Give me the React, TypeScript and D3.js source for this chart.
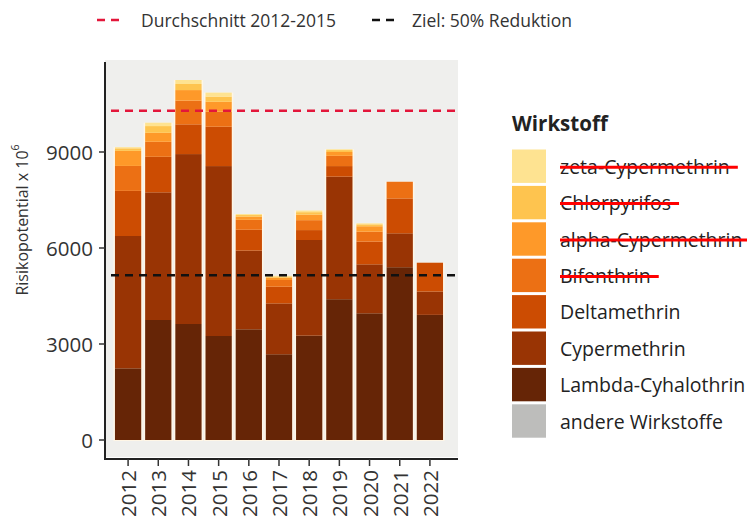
import React, { useEffect, useRef } from 'react'
import * as d3 from 'd3'

const years = ['2012', '2013', '2014', '2015', '2016', '2017', '2018', '2019', '2020', '2021', '2022']

// Risikopotential x 10^6 per Wirkstoff
const andereWirkstoffe = [0, 0, 0, 0, 0, 0, 0, 0, 0, 0, 0]
const lambdaCyhalothrin = [2240, 3750, 3625, 3250, 3460, 2680, 3260, 4400, 3960, 5400, 3910]
const cypermethrin = [4135, 3990, 5310, 5310, 2460, 1590, 2990, 3830, 1530, 1060, 730]
const deltamethrin = [1410, 1110, 930, 1230, 650, 520, 310, 330, 710, 1090, 900]
const bifenthrin = [780, 470, 740, 470, 310, 210, 310, 320, 310, 520, 0]
const alphaCypermethrin = [470, 280, 330, 310, 100, 70, 170, 120, 170, 0, 0]
const chlorpyrifos = [80, 210, 190, 160, 50, 40, 80, 60, 60, 0, 0]
const zetaCypermethrin = [35, 105, 125, 125, 30, 20, 50, 25, 30, 0, 0]

const yTicks = [0, 3000, 6000, 9000]
const baseYears = ['2012', '2013', '2014', '2015']

// legend order, top to bottom
const substances = [
  { key: 'zeta', label: 'zeta-Cypermethrin', color: '#fee391', values: zetaCypermethrin, struck: true },
  { key: 'chlor', label: 'Chlorpyrifos', color: '#fec44f', values: chlorpyrifos, struck: true },
  { key: 'alpha', label: 'alpha-Cypermethrin', color: '#fe9929', values: alphaCypermethrin, struck: true },
  { key: 'bif', label: 'Bifenthrin', color: '#ec7014', values: bifenthrin, struck: true },
  { key: 'delta', label: 'Deltamethrin', color: '#cc4c02', values: deltamethrin, struck: false },
  { key: 'cyper', label: 'Cypermethrin', color: '#993404', values: cypermethrin, struck: false },
  { key: 'lambda', label: 'Lambda-Cyhalothrin', color: '#662506', values: lambdaCyhalothrin, struck: false },
  { key: 'andere', label: 'andere Wirkstoffe', color: '#bdbdbb', values: andereWirkstoffe, struck: false },
]

const FONT = '"Open Sans", "Noto Sans", sans-serif'

function drawChart(el: SVGSVGElement) {
  const svg = d3.select(el)
  svg.selectAll('*').remove()
  svg.attr('font-family', FONT)

  const panel = { left: 105, right: 458, top: 60, bottom: 457 }

  const x = d3.scaleBand<string>()
    .domain(years)
    .range([113, 445])
    .paddingInner(0.13)
    .paddingOuter(0.065)

  const y = d3.scaleLinear().domain([0, 12000]).range([440, 56])

  const rows = years.map((yr, i) => {
    const r: any = { year: yr }
    substances.forEach(s => { r[s.key] = s.values[i] })
    return r
  })
  const stackKeys = substances.map(s => s.key).reverse()
  const series = d3.stack().keys(stackKeys)(rows)
  const colorOf = new Map(substances.map(s => [s.key, s.color]))

  // panel
  svg.append('rect')
    .attr('x', panel.left).attr('y', panel.top)
    .attr('width', panel.right - panel.left).attr('height', panel.bottom - panel.top)
    .attr('fill', '#efefed')

  // cream outline behind each bar
  const totals = rows.map(r => d3.sum(stackKeys, k => r[k]))
  svg.append('g').selectAll('rect')
    .data(years)
    .enter().append('rect')
    .attr('x', d => (x(d) as number) - 1.5)
    .attr('width', x.bandwidth() + 3)
    .attr('y', (d, i) => y(totals[i]))
    .attr('height', (d, i) => y(0) - y(totals[i]) + 1)
    .attr('fill', '#fff6e6')

  svg.append('g').selectAll('g')
    .data(series)
    .enter().append('g')
    .attr('fill', d => colorOf.get(d.key) as string)
    .selectAll('rect')
    .data(d => d)
    .enter().append('rect')
    .attr('x', d => x(d.data.year as any) as number)
    .attr('width', x.bandwidth())
    .attr('y', d => y(d[1]))
    .attr('height', d => Math.max(0, y(d[0]) - y(d[1])))

  // reference lines
  const avg = d3.mean(baseYears, yr => totals[years.indexOf(yr)]) as number
  svg.append('line')
    .attr('x1', panel.left + 6).attr('x2', panel.right)
    .attr('y1', y(avg)).attr('y2', y(avg))
    .attr('stroke', '#e3163a').attr('stroke-width', 2.5)
    .attr('stroke-dasharray', '8 6')
  svg.append('line')
    .attr('x1', panel.left + 6).attr('x2', panel.right)
    .attr('y1', y(avg / 2)).attr('y2', y(avg / 2))
    .attr('stroke', '#111').attr('stroke-width', 2.5)
    .attr('stroke-dasharray', '8 6')

  // axes
  svg.append('line')
    .attr('x1', panel.left).attr('x2', panel.left)
    .attr('y1', 62).attr('y2', 459)
    .attr('stroke', '#222').attr('stroke-width', 2)
  svg.append('line')
    .attr('x1', panel.left - 1).attr('x2', panel.right)
    .attr('y1', 459).attr('y2', 459)
    .attr('stroke', '#222').attr('stroke-width', 2)

  const yt = svg.append('g')
  yTicks.forEach(t => {
    yt.append('line')
      .attr('x1', panel.left - 6).attr('x2', panel.left)
      .attr('y1', y(t)).attr('y2', y(t))
      .attr('stroke', '#333').attr('stroke-width', 1.5)
    yt.append('text')
      .attr('x', panel.left - 12).attr('y', y(t))
      .attr('text-anchor', 'end').attr('dominant-baseline', 'central')
      .attr('font-size', 20.5).attr('fill', '#333')
      .text(String(t))
  })

  const xt = svg.append('g')
  years.forEach(yr => {
    const cx = (x(yr) as number) + x.bandwidth() / 2
    xt.append('line')
      .attr('x1', cx).attr('x2', cx)
      .attr('y1', 459).attr('y2', 466)
      .attr('stroke', '#333').attr('stroke-width', 1.5)
    xt.append('text')
      .attr('transform', `translate(${cx},470) rotate(-90)`)
      .attr('text-anchor', 'end').attr('dominant-baseline', 'central')
      .attr('font-size', 20.5).attr('fill', '#333')
      .text(yr)
  })

  // y title
  const yTitle = svg.append('text')
    .attr('transform', 'translate(22,220) rotate(-90)')
    .attr('text-anchor', 'middle').attr('dominant-baseline', 'central')
    .attr('font-size', 16).attr('fill', '#333')
  yTitle.append('tspan').text('Risikopotential  x 10')
  yTitle.append('tspan').attr('font-size', 10.5).attr('dy', -7).text('6')

  // top legend
  const top = svg.append('g')
  top.append('line')
    .attr('x1', 97).attr('x2', 119).attr('y1', 20).attr('y2', 20)
    .attr('stroke', '#e3163a').attr('stroke-width', 2.5).attr('stroke-dasharray', '8 6')
  top.append('text')
    .attr('x', 141).attr('y', 20).attr('dominant-baseline', 'central')
    .attr('font-size', 17.5).attr('fill', '#333')
    .text('Durchschnitt 2012-2015')
  top.append('line')
    .attr('x1', 372).attr('x2', 394).attr('y1', 20).attr('y2', 20)
    .attr('stroke', '#111').attr('stroke-width', 2.5).attr('stroke-dasharray', '8 6')
  top.append('text')
    .attr('x', 412).attr('y', 20).attr('dominant-baseline', 'central')
    .attr('font-size', 17.5).attr('fill', '#333')
    .text('Ziel: 50% Reduktion')

  // substance legend
  const lg = svg.append('g')
  lg.append('text')
    .attr('x', 512).attr('y', 131)
    .attr('font-size', 20.5).attr('font-weight', 'bold').attr('fill', '#222')
    .text('Wirkstoff')
  const step = 36.4
  substances.forEach((s, i) => {
    const ky = 149.5 + i * step
    lg.append('rect')
      .attr('x', 512).attr('y', ky)
      .attr('width', 34).attr('height', step - 3)
      .attr('fill', s.color)
    const cy = ky + (step - 3) / 2
    const label = lg.append('text')
      .attr('x', 560).attr('y', cy)
      .attr('dominant-baseline', 'central')
      .attr('font-size', 19.5).attr('fill', '#222')
      .text(s.label)
    if (s.struck) {
      const len = (label.node() as SVGTextElement).getComputedTextLength()
      lg.append('line')
        .attr('x1', 560).attr('x2', 560 + len + 8)
        .attr('y1', cy + 1).attr('y2', cy + 1)
        .attr('stroke', '#ff0000').attr('stroke-width', 3)
    }
  })
}

const App = () => {
  const ref = useRef<SVGSVGElement>(null)
  useEffect(() => {
    if (ref.current) drawChart(ref.current)
  }, [])
  return (
    <svg ref={ref} width={747} height={516}
      style={{ position: 'absolute', left: 0, top: 0, background: '#fff' }} />
  )
}

export default App
